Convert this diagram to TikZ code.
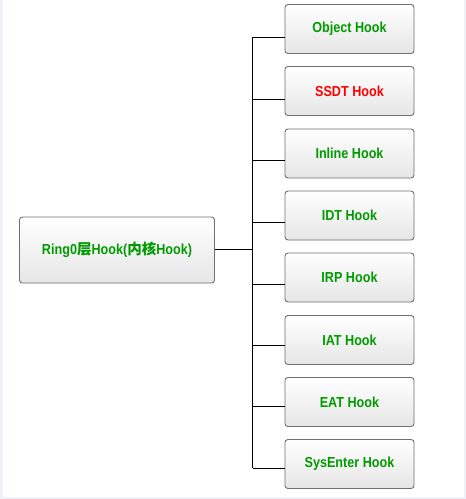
\documentclass[tikz,border=0pt]{standalone}
\usepackage{fontspec}
\usetikzlibrary{calc}
\newfontfamily\hk[FakeStretch=0.87]{Liberation Sans}
\newfontfamily\cjk{Noto Sans CJK SC}
\definecolor{hgreen}{RGB}{0,155,0}
\definecolor{hred}{RGB}{255,0,0}
\definecolor{frame}{RGB}{238,242,248}
\definecolor{bord}{RGB}{112,112,112}
\definecolor{fillbot}{RGB}{230,230,230}
\tikzset{
  hookbox/.style={draw=bord, line width=0.9pt, rounded corners=3pt,
    top color=white, bottom color=fillbot, minimum width=129pt,
    minimum height=49pt, inner sep=0pt, font=\hk\bfseries\fontsize{14.5}{16}\selectfont,
    text=hgreen},
  link/.style={draw=black, line width=1pt},
}
\begin{document}
\begin{tikzpicture}[x=1pt,y=-1pt]
\useasboundingbox (0,0) rectangle (466,499);
\fill[frame] (0,0) rectangle (466,499);
\fill[white] (2.5,0) rectangle (463.5,496.5);
\node[hookbox, minimum width=195pt, minimum height=66pt] (main) at (117,250)
  {Ring0{\cjk\bfseries 层}Hook({\cjk\bfseries 内核}Hook)};
\node[hookbox] (b1) at (349.5,29) {Object Hook};
\node[hookbox, text=hred] (b2) at (349.5,91) {SSDT Hook};
\node[hookbox] (b3) at (349.5,153.5) {Inline Hook};
\node[hookbox] (b4) at (349.5,215.5) {IDT Hook};
\node[hookbox] (b5) at (349.5,277.5) {IRP Hook};
\node[hookbox] (b6) at (349.5,340) {IAT Hook};
\node[hookbox] (b7) at (349.5,402) {EAT Hook};
\node[hookbox] (b8) at (349.5,464) {SysEnter Hook};
\coordinate (trunk) at (252.5,0);
\coordinate (m) at ($(main.east)+(0,-1)$);
\coordinate (j1) at ($(b1.west)+(0,8)$);
\coordinate (j2) at ($(b2.west)+(0,8)$);
\coordinate (j3) at ($(b3.west)+(0,6.5)$);
\coordinate (j4) at ($(b4.west)+(0,6.5)$);
\coordinate (j5) at ($(b5.west)+(0,6.5)$);
\coordinate (j6) at ($(b6.west)+(0,5)$);
\coordinate (j7) at ($(b7.west)+(0,4)$);
\coordinate (j8) at ($(b8.west)+(0,4)$);
\draw[link] (trunk |- j1) -- (trunk |- j8);
\draw[link] (m) -- (trunk |- m);
\foreach \j in {j1,j2,j3,j4,j5,j6,j7,j8}
  \draw[link] (trunk |- \j) -- (\j);
\end{tikzpicture}
\end{document}
